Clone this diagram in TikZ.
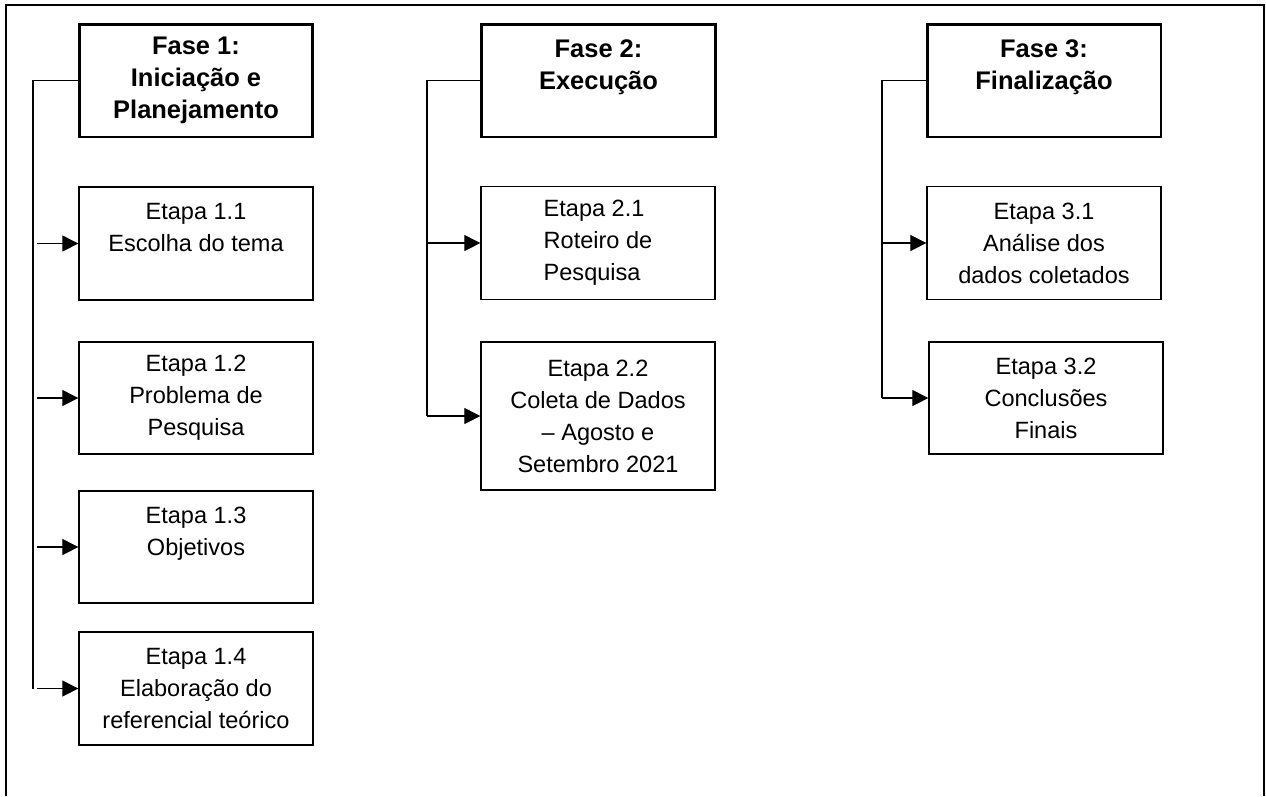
\documentclass[tikz,border=0pt]{standalone}
\usepackage{fontspec}
\setmainfont{Liberation Sans}
\usetikzlibrary{arrows.meta, positioning, calc}

\begin{document}
\begin{tikzpicture}[x=0.02cm, y=-0.02cm, font=\fontsize{13.4}{18.2}\selectfont,
    >={Triangle[length=0.32cm, width=0.32cm]},
    fasebox/.style={draw, line width=1.7pt, minimum width=4.68cm, minimum height=2.26cm,
        inner sep=0pt, align=center, font=\fontsize{14.5}{18.2}\selectfont\bfseries},
    etapabox/.style={draw, line width=0.75pt, minimum width=4.68cm, minimum height=2.26cm,
        inner sep=0pt, align=center},
    link/.style={line width=0.6pt}]
    \useasboundingbox (0,0) rectangle (1266,796);
    % moldura
    \draw[line width=0.6pt] (6,796) -- (6,5) -- (1264,5) -- (1264,796);
    % fases
    \node[fasebox] (f1) at (196,80.5) {Fase 1:\\Iniciação e\\Planejamento};
    \node[fasebox] (f2) at (598.5,80.5) {Fase 2:\\Execução\\\mbox{}};
    \node[fasebox] (f3) at (1044,80.5) {Fase 3:\\Finalização\\\mbox{}};
    % etapas da fase 1
    \node[etapabox] (e11) at (196,243.5) {Etapa 1.1\\Escolha do tema\\\mbox{}};
    \node[etapabox, minimum height=2.24cm] (e12) at (196,398) {Etapa 1.2\\Problema de\\Pesquisa};
    \node[etapabox, minimum height=2.24cm] (e13) at (196,547) {Etapa 1.3\\Objetivos\\\mbox{}};
    \node[etapabox] (e14) at (196,688.5) {Etapa 1.4\\Elaboração do\\referencial teórico};
    % etapas da fase 2
    \node[etapabox, align=left] (e21) at (598,243) {Etapa 2.1\\Roteiro de\\Pesquisa};
    \node[etapabox, minimum height=2.96cm] (e22) at (598,416) {Etapa 2.2\\Coleta de Dados\\– Agosto e\\Setembro 2021};
    % etapas da fase 3
    \node[etapabox] (e31) at (1044,243) {Etapa 3.1\\Análise dos\\dados coletados};
    \node[etapabox, minimum height=2.24cm] (e32) at (1046,398) {Etapa 3.2\\Conclusões\\Finais};
    % troncos
    \coordinate (t1) at (33,0);
    \coordinate (t2) at (427,0);
    \coordinate (t3) at (882,0);
    \draw[link] (f1.west) -| (t1 |- e14.west);
    \draw[link] (f2.west) -| (t2 |- e22.west);
    \draw[link] (f3.west) -| (t3 |- e32.west);
    % setas
    \foreach \e in {e11,e12,e13,e14}
        \draw[link,->] ($(t1 |- \e.west)+(4,0)$) -- (\e.west);
    \foreach \e in {e21,e22}
        \draw[link,->] (t2 |- \e.west) -- (\e.west);
    \foreach \e in {e31,e32}
        \draw[link,->] (t3 |- \e.west) -- (\e.west);
\end{tikzpicture}
\end{document}
